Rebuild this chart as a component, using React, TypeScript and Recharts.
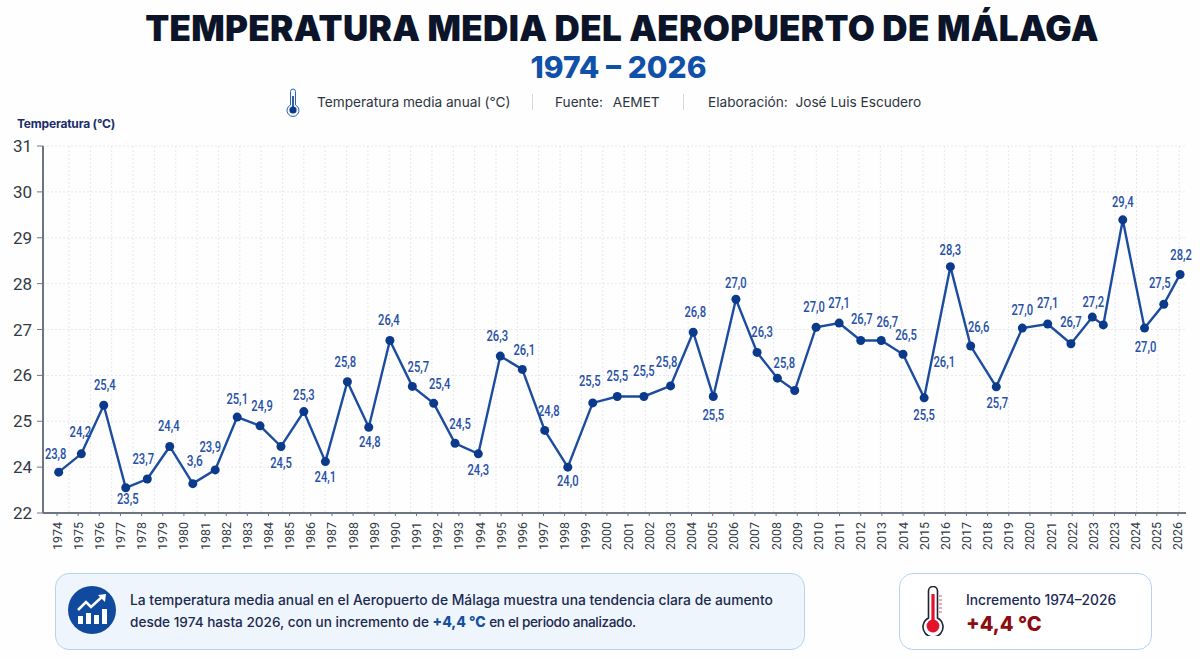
import {
  CartesianGrid,
  LabelList,
  Line,
  LineChart,
  ReferenceDot,
  XAxis,
  YAxis,
} from "recharts";

// tick labels as printed (2023 really does appear twice, and the bottom tick says 22)
const xTickLabels = [
  "1974", "1975", "1976", "1977", "1978", "1979", "1980", "1981", "1982", "1983",
  "1984", "1985", "1986", "1987", "1988", "1989", "1990", "1991", "1992", "1993",
  "1994", "1995", "1996", "1997", "1998", "1999", "2000", "2001", "2002", "2003",
  "2004", "2005", "2006", "2007", "2008", "2009", "2010", "2011", "2012", "2013",
  "2014", "2015", "2016", "2017", "2018", "2019", "2020", "2021", "2022", "2023",
  "2023", "2024", "2025", "2026",
];
const yTickValues = [23, 24, 25, 26, 27, 28, 29, 30, 31];
const yTickLabels = ["22", "24", "25", "26", "27", "28", "29", "30", "31"];

// where each point sits along the axis, in tick units (they drift off the ticks)
const pointPositions = [
  0.08, 1.15, 2.21, 3.25, 4.27, 5.33, 6.42, 7.48, 8.52, 9.6,
  10.59, 11.67, 12.69, 13.73, 14.74, 15.74, 16.8, 17.81, 18.82, 19.92,
  20.96, 22.0, 23.06, 24.15, 25.33, 26.49, 27.75, 29.01, 30.08, 31.03,
  32.1, 33.1, 34.06, 34.88, 35.89, 36.98, 38.0, 38.97, 40.0, 41.0,
  42.24, 43.2, 44.41, 45.64, 46.84, 47.94, 48.95, 49.47, 50.39, 51.42,
  52.33, 53.1,
];
const plottedValues = [
  23.89, 24.29, 25.35, 23.55, 23.74, 24.45, 23.64, 23.94, 25.09, 24.9,
  24.45, 25.21, 24.12, 25.86, 24.87, 26.76, 25.76, 25.39, 24.52, 24.29,
  26.42, 26.13, 24.8, 24.0, 25.4, 25.54, 25.54, 25.77, 26.94, 25.54,
  27.66, 26.5, 25.94, 25.67, 27.05, 27.14, 26.76, 26.76, 26.46, 25.51,
  28.37, 26.64, 25.75, 27.03, 27.12, 26.69, 27.27, 27.1, 29.39, 27.03,
  27.55, 28.2,
];
const pointLabels = [
  "23,8", "24,2", "25,4", "23,5", "23,7", "24,4", "3,6", "23,9", "25,1", "24,9",
  "24,5", "25,3", "24,1", "25,8", "24,8", "26,4", "25,7", "25,4", "24,5", "24,3",
  "26,3", "26,1", "24,8", "24,0", "25,5", "25,5", "25,5", "25,8", "26,8", "25,5",
  "27,0", "26,3", "25,8", "", "27,0", "27,1", "26,7", "26,7", "26,5", "25,5",
  "28,3", "26,6", "25,7", "27,0", "27,1", "26,7", "27,2", "", "29,4", "27,0",
  "27,5", "28,2",
];
const strayLabel = "26,1";

// label nudges relative to the point, pixels
const labelDx = [
  -3, -1, 1, 2, -4, -1, 2, -5, 0, 2, 0, 0, 0, -2, 1, -1, 6, 6, 5, 0, -3, 2, 4, 0, -3, 0,
  0, -4, 2, 0, 0, 5, 7, 0, -2, 0, 1, 6, 3, 0, 0, 8, 1, 0, 0, 0, 1, 0, 0, 1, -4, 1,
];
const labelDy = [
  -18, -21, -20, 12, -20, -20, -22, -22, -18, -19, 17, -16, 16, -19, 15, -20, -19, -19, -19, 17,
  -20, -19, -19, 14, -21, -20, -25, -23, -20, 19, -16, -20, -15, 0, -20, -20, -21, -18, -19, 18,
  -16, -19, 17, -18, -20, -21, -15, 0, -17, 19, -21, -19,
];

const chartData = plottedValues.map((value, i) => ({
  position: pointPositions[i],
  value,
  label: pointLabels[i],
}));

const NAVY = "#1c4c9f";
const DOT = "#0c3a8b";
const LABEL = "#2650a8";
const AXIS = "#6d7482";
const GRID = "#e6e8ec";
const FONT = "Inter, Roboto, sans-serif";

const gridLines = Array.from({ length: 53 }, (_, i) => 69 + i * 21.35);

function LabelText({ x, y, text }: { x: number; y: number; text: string }) {
  return (
    <text
      x={x}
      y={y}
      textAnchor="middle"
      dominantBaseline="central"
      fontFamily="Roboto, sans-serif"
      fontSize={14.5}
      fontWeight={500}
      fill={LABEL}
      textLength={text.length * 5.4}
      lengthAdjust="spacingAndGlyphs"
    >
      {text}
    </text>
  );
}

function PointLabel({ x, y, index }: any) {
  const text = pointLabels[index];
  if (!text) return null;
  return <LabelText x={x + labelDx[index]} y={y + labelDy[index]} text={text} />;
}

function StrayLabel({ cx, cy }: any) {
  return <LabelText x={cx} y={cy} text={strayLabel} />;
}

function YearTick({ x, payload }: any) {
  return (
    <text
      transform={`translate(${x},522) rotate(-90)`}
      textAnchor="end"
      dominantBaseline="central"
      fontFamily="Roboto, sans-serif"
      fontSize={12.5}
      fill="#333a44"
    >
      {xTickLabels[payload.value]}
    </text>
  );
}

function SmallThermometer() {
  return (
    <svg width="14" height="30" viewBox="0 0 14 30">
      <path
        d="M4.5 3.5a2.5 2.5 0 0 1 5 0V17a6 6 0 1 1-5 0Z"
        fill="#f3f7fc"
        stroke="#2b67b3"
        strokeWidth="1"
      />
      <rect x="6.2" y="8" width="1.6" height="12" fill="#0c3a8b" />
      <circle cx="7" cy="22" r="3.6" fill="#0c3a8b" />
    </svg>
  );
}

function RedThermometer() {
  return (
    <svg width="24" height="50" viewBox="0 0 24 50">
      <path
        d="M7.5 5a4.5 4.5 0 0 1 9 0v27a10 10 0 1 1-9 0Z"
        fill="#fff"
        stroke="#1d2433"
        strokeWidth="1.6"
      />
      <rect x="10.4" y="8" width="3.2" height="28" fill="#e3132c" />
      <circle cx="12" cy="40" r="6.4" fill="#e3132c" />
      <path d="M18 10h3M18 14h3M18 18h3M18 22h3M18 26h3" stroke="#d9566a" strokeWidth="1" />
    </svg>
  );
}

function TrendBadge() {
  return (
    <svg width="48" height="48" viewBox="0 0 48 48">
      <circle cx="24" cy="24" r="24" fill="#0f4a9e" />
      <g fill="#fff">
        <rect x="10" y="30" width="5" height="8" />
        <rect x="18" y="27" width="5" height="11" />
        <rect x="26" y="29" width="5" height="9" />
        <rect x="34" y="23" width="5" height="15" />
      </g>
      <path d="M10 24l8-8 5 5 12-11" fill="none" stroke="#fff" strokeWidth="2.6" />
      <path d="M30 9l8-1-1 8Z" fill="#fff" />
    </svg>
  );
}

const abs = (left: number, top: number): React.CSSProperties => ({
  position: "absolute",
  left,
  top,
  whiteSpace: "nowrap",
});

const metaText: React.CSSProperties = { fontSize: 13.65, lineHeight: "18px", color: "#2d3540" };

export default function App() {
  return (
    <div
      style={{
        position: "absolute",
        left: 0,
        top: 0,
        width: 1200,
        height: 658,
        background: "#fefefe",
        overflow: "hidden",
        fontFamily: FONT,
      }}
    >
      <div
        style={{
          ...abs(0, 6),
          width: 1244,
          textAlign: "center",
          fontSize: 35,
          lineHeight: "44px",
          fontWeight: 900,
          color: "#0b1428",
          letterSpacing: 0.3,
        }}
      >
        TEMPERATURA MEDIA DEL AEROPUERTO DE MÁLAGA
      </div>
      <div
        style={{
          ...abs(0, 48),
          width: 1237,
          textAlign: "center",
          fontSize: 30,
          lineHeight: "38px",
          fontWeight: 800,
          color: "#1150a8",
        }}
      >
        1974 – 2026
      </div>

      <div style={abs(286, 88)}>
        <SmallThermometer />
      </div>
      <div style={{ ...abs(317, 93), ...metaText }}>Temperatura media anual (°C)</div>
      <div style={{ ...abs(532, 94), width: 1, height: 16, background: "#d5d9df" }} />
      <div style={{ ...abs(555, 93), ...metaText, wordSpacing: 6 }}>Fuente: AEMET</div>
      <div style={{ ...abs(683, 94), width: 1, height: 16, background: "#d5d9df" }} />
      <div style={{ ...abs(708, 93), ...metaText }}>Elaboración:&nbsp; José Luis Escudero</div>

      <div
        style={{
          ...abs(17, 116),
          fontSize: 12,
          lineHeight: "16px",
          fontWeight: 700,
          color: "#1a2d6b",
          letterSpacing: -0.2,
        }}
      >
        Temperatura (°C)
      </div>

      <div style={abs(0, 0)}>
        <LineChart
          width={1200}
          height={600}
          data={chartData}
          margin={{ top: 146, right: 14, bottom: 0, left: 0 }}
        >
          <CartesianGrid
            stroke={GRID}
            strokeDasharray="2 2"
            verticalPoints={gridLines}
            syncWithTicks={false}
          />
          <XAxis
            type="number"
            dataKey="position"
            domain={[-0.662, 53.38]}
            ticks={xTickLabels.map((_, i) => i)}
            interval={0}
            height={87}
            axisLine={{ stroke: AXIS, strokeWidth: 2 }}
            tickLine={{ stroke: AXIS }}
            tickSize={3}
            tick={<YearTick />}
          />
          <YAxis
            type="number"
            domain={[23, 31]}
            ticks={yTickValues}
            interval={0}
            width={43}
            axisLine={{ stroke: AXIS, strokeWidth: 2 }}
            tickLine={{ stroke: AXIS }}
            tickSize={6}
            tickMargin={5}
            tick={{ fontSize: 17, fill: "#333a44", fontFamily: "Roboto, sans-serif" }}
            tickFormatter={(v: number) => yTickLabels[yTickValues.indexOf(v)]}
          />
          <Line
            type="linear"
            dataKey="value"
            stroke={NAVY}
            strokeWidth={2.4}
            dot={{ r: 4.5, fill: DOT, stroke: DOT, strokeWidth: 0, fillOpacity: 1 }}
            activeDot={false}
            isAnimationActive={false}
          >
            <LabelList dataKey="label" content={<PointLabel />} />
          </Line>
          {/* the 26,1 that floats next to the 2015-2016 rise, tied to no point */}
          <ReferenceDot x={41.95} y={26.29} shape={<StrayLabel />} />
        </LineChart>
      </div>

      <div
        style={{
          position: "absolute",
          left: 55,
          top: 573,
          width: 750,
          height: 77,
          boxSizing: "border-box",
          borderRadius: 14,
          background: "#eff5fd",
          border: "1.5px solid #b7d3f3",
        }}
      />
      <div style={abs(68, 586)}>
        <TrendBadge />
      </div>
      <div style={{ ...abs(130, 591), fontSize: 13.83, lineHeight: "18px", fontWeight: 500, color: "#1b2a4e" }}>
        La temperatura media anual en el Aeropuerto de Málaga muestra una tendencia clara de aumento
      </div>
      <div style={{ ...abs(130, 613), fontSize: 13.6, lineHeight: "18px", fontWeight: 500, color: "#1b2a4e" }}>
        desde 1974 hasta 2026, con un incremento de{" "}
        <span style={{ fontWeight: 800, color: "#1550a0", fontSize: 14 }}>+4,4 °C</span>{" "}
        <span style={{ letterSpacing: -0.35 }}>en el periodo analizado.</span>
      </div>

      <div
        style={{
          position: "absolute",
          left: 899,
          top: 573,
          width: 253,
          height: 77,
          boxSizing: "border-box",
          borderRadius: 14,
          background: "#ffffff",
          border: "1.5px solid #b7d3f3",
        }}
      />
      <div style={abs(921, 586)}>
        <RedThermometer />
      </div>
      <div style={{ ...abs(966, 591), fontSize: 13.8, lineHeight: "18px", fontWeight: 500, color: "#1c2a5a" }}>
        Incremento 1974–2026
      </div>
      <div style={{ ...abs(966, 610), fontSize: 20, lineHeight: "28px", fontWeight: 800, color: "#8b0d12" }}>
        +4,4 °C
      </div>
    </div>
  );
}
